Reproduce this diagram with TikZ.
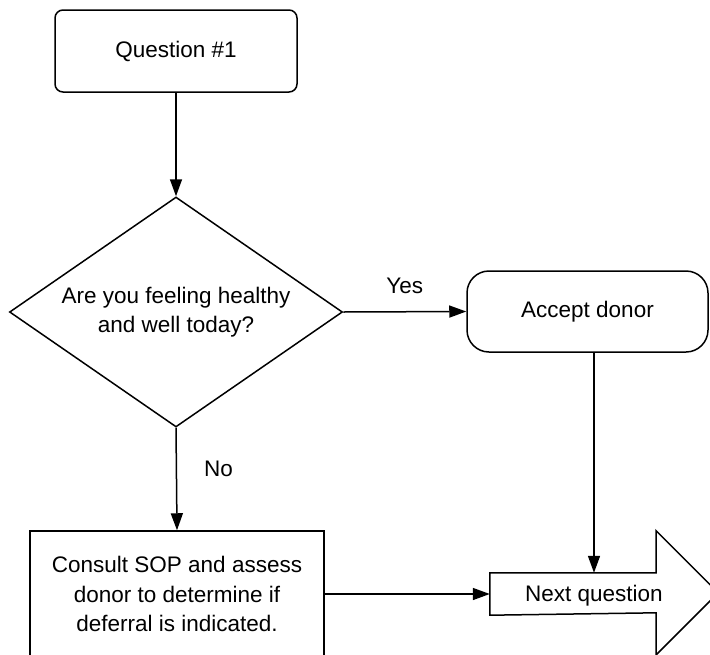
\documentclass[tikz,border=0pt]{standalone}
\usepackage{fontspec}
\setmainfont{Liberation Sans}
\usetikzlibrary{arrows.meta,shapes.geometric}
\begin{document}
\begin{tikzpicture}[x=1pt,y=-1pt,
  every node/.style={font=\fontsize{22.5}{29.5}\selectfont, inner sep=0pt, align=center},
  line/.style={line width=1.5pt},
  arr/.style={line, -{Triangle[length=17pt,width=12pt]}},
  roundbox/.style={draw, line width=1.5pt, minimum width=242pt, minimum height=82pt},
  decision/.style={draw, line width=1.5pt, shape=diamond, aspect=1.45,
                   minimum width=333pt, minimum height=230pt},
  process/.style={draw, line width=1.5pt, minimum width=294pt, minimum height=126pt}]
\useasboundingbox (0,0) rectangle (710,654);

% boxes
\node[roundbox, rounded corners=8pt] (start) at (176,51) {Question \#1};
\node[decision] (ask) at (176,312) {Are you feeling healthy\\and well today?};
\node[roundbox, rounded corners=22pt, minimum width=241pt, minimum height=81pt]
  (accept) at (587.5,311.5) {Accept donor};
\node[process] (consult) at (177,594)
  {Consult SOP and assess\\donor to determine if\\deferral is indicated.};

% block arrow "Next question"
\node[minimum width=166pt, minimum height=42pt] (nextbody) at (573,594) {};
\draw[line, line join=miter]
  (nextbody.north west) -- (nextbody.north east) -- ++(0,-42) -- ++(62,62)
  -- ++(-62,62) -- ++(0,-42) -- (nextbody.south west) -- cycle;
\node (nexttext) at (594,596) {Next question};

% connectors
\coordinate (dropx) at (594,0);
\draw[arr] (start.south) -- (ask.north);
\draw[arr] (ask.east) -- (accept.west) node[midway, above=17pt] (yes) {Yes};
\draw[arr] (ask.south) -- (consult.north) node[pos=0.40, right=27pt] (no) {No};
\draw[arr] (accept.south -| dropx) -- (nextbody.north -| dropx);
\draw[arr] (consult.east) -- (nextbody.west);
\end{tikzpicture}
\end{document}
